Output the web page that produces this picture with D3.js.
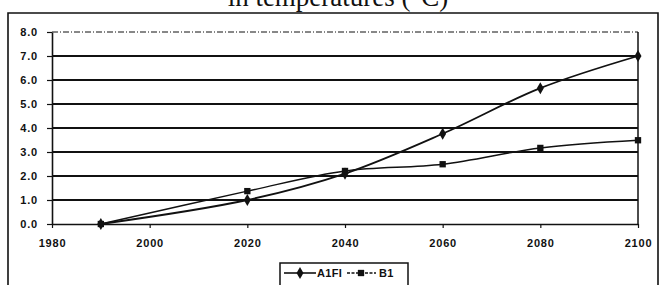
<!DOCTYPE html>
<html><head><meta charset="utf-8">
<script src="https://cdn.jsdelivr.net/npm/d3@7"></script>
<style>html,body{margin:0;padding:0;background:#fff;}svg{display:block;}</style>
</head><body>
<svg id="c" width="661" height="285"></svg>
<script>
const years = [1990, 2020, 2040, 2060, 2080, 2100];
const a1fi = [0.0, 1.0, 2.1, 3.76, 5.66, 7.0];
const b1 = [0.0, 1.37, 2.21, 2.49, 3.17, 3.49];
const seriesNames = ["A1FI", "B1"];
const xTicks = [1980, 2000, 2020, 2040, 2060, 2080, 2100];
const yTicks = [0, 1, 2, 3, 4, 5, 6, 7, 8];
const title = "in temperatures (°C)";

const svg = d3.select("#c");
const ink = "#111";
const x = d3.scaleLinear().domain([1980, 2100]).range([52, 638]);
const y = d3.scaleLinear().domain([0, 8]).range([224, 32]);

// outer frame
svg.append("path").attr("d", "M8,290 L8,13 L658,13 L658,290")
  .attr("fill", "none").attr("stroke", ink).attr("stroke-width", 1.6);

// title (cut at top, as in the reference)
svg.append("text").attr("x", 338).attr("y", 6).attr("text-anchor", "middle")
  .attr("font-family", "Liberation Serif").attr("font-size", 27).attr("fill", ink).text(title);

// gridlines
svg.append("g").selectAll("line").data(yTicks.filter(d => d > 0)).join("line")
  .attr("x1", x(1980)).attr("x2", x(2100)).attr("y1", d => y(d)).attr("y2", d => y(d))
  .attr("stroke", ink).attr("stroke-width", d => d === 8 ? 1 : 1.8)
  .attr("stroke-dasharray", d => d === 8 ? "6,2,1,2" : null);
// right border
svg.append("line").attr("x1", x(2100)).attr("x2", x(2100)).attr("y1", y(8)).attr("y2", y(0))
  .attr("stroke", ink).attr("stroke-width", 1.5);

const tickFont = s => s.attr("font-family", "Liberation Sans").attr("font-size", 11)
  .attr("font-weight", "bold").attr("letter-spacing", 0.8).attr("fill", ink);

// y axis
const yAxis = d3.axisLeft(y).tickValues(yTicks).tickFormat(d3.format(".1f")).tickSizeInner(5).tickSizeOuter(0);
const gy = svg.append("g").attr("transform", `translate(${x(1980)},0)`).call(yAxis);
gy.select(".domain").attr("stroke", ink).attr("stroke-width", 1.6);
gy.selectAll(".tick line").attr("stroke", ink).attr("stroke-width", 1.2);
gy.selectAll(".tick text").call(tickFont).attr("x", -14);

// x axis
const xAxis = d3.axisBottom(x).tickValues(xTicks).tickFormat(d3.format("d")).tickSizeInner(4).tickSizeOuter(0);
const gx = svg.append("g").attr("transform", `translate(0,${y(0)})`).call(xAxis);
gx.select(".domain").attr("stroke", ink).attr("stroke-width", 1.6);
gx.selectAll(".tick line").attr("stroke", ink).attr("stroke-width", 1.2);
gx.selectAll(".tick text").call(tickFont).attr("y", 15);

// lines
const line = d3.line().x(d => x(d[0])).y(d => y(d[1])).curve(d3.curveCatmullRom.alpha(0.5));
const dA = years.map((v, i) => [v, a1fi[i]]);
const dB = years.map((v, i) => [v, b1[i]]);
svg.append("path").attr("d", line(dB)).attr("fill", "none").attr("stroke", ink).attr("stroke-width", 1.5);
svg.append("path").attr("d", line(dA)).attr("fill", "none").attr("stroke", ink).attr("stroke-width", 1.8);

const diamond = d3.symbol().type(d3.symbolDiamond).size(42);
const square = d3.symbol().type(d3.symbolSquare).size(40);
svg.append("g").selectAll("path").data(dB).join("path")
  .attr("d", square).attr("transform", d => `translate(${x(d[0])},${y(d[1])})`).attr("fill", ink);
svg.append("g").selectAll("path").data(dA).join("path")
  .attr("d", diamond).attr("transform", d => `translate(${x(d[0])},${y(d[1])})`).attr("fill", ink);

// legend
const lg = svg.append("g");
const legFont = s => s.attr("font-family", "Liberation Sans").attr("font-size", 11)
  .attr("font-weight", "bold").attr("letter-spacing", 0.3).attr("fill", ink);
lg.append("path").attr("d", "M280,290 L280,263 L408,263 L408,290").attr("fill", "none")
  .attr("stroke", ink).attr("stroke-width", 1.5);
lg.append("line").attr("x1", 284).attr("x2", 316).attr("y1", 273).attr("y2", 273).attr("stroke", ink).attr("stroke-width", 1.6);
lg.append("path").attr("d", diamond).attr("transform", "translate(300,273)").attr("fill", ink);
lg.append("text").attr("x", 317).attr("y", 277).call(legFont).text(seriesNames[0]);
lg.append("line").attr("x1", 347).attr("x2", 376).attr("y1", 273).attr("y2", 273).attr("stroke", ink)
  .attr("stroke-width", 1.3).attr("stroke-dasharray", "3,1.5");
lg.append("path").attr("d", square).attr("transform", "translate(361,273)").attr("fill", ink);
lg.append("text").attr("x", 379).attr("y", 277).call(legFont).text(seriesNames[1]);
</script>
</body></html>
